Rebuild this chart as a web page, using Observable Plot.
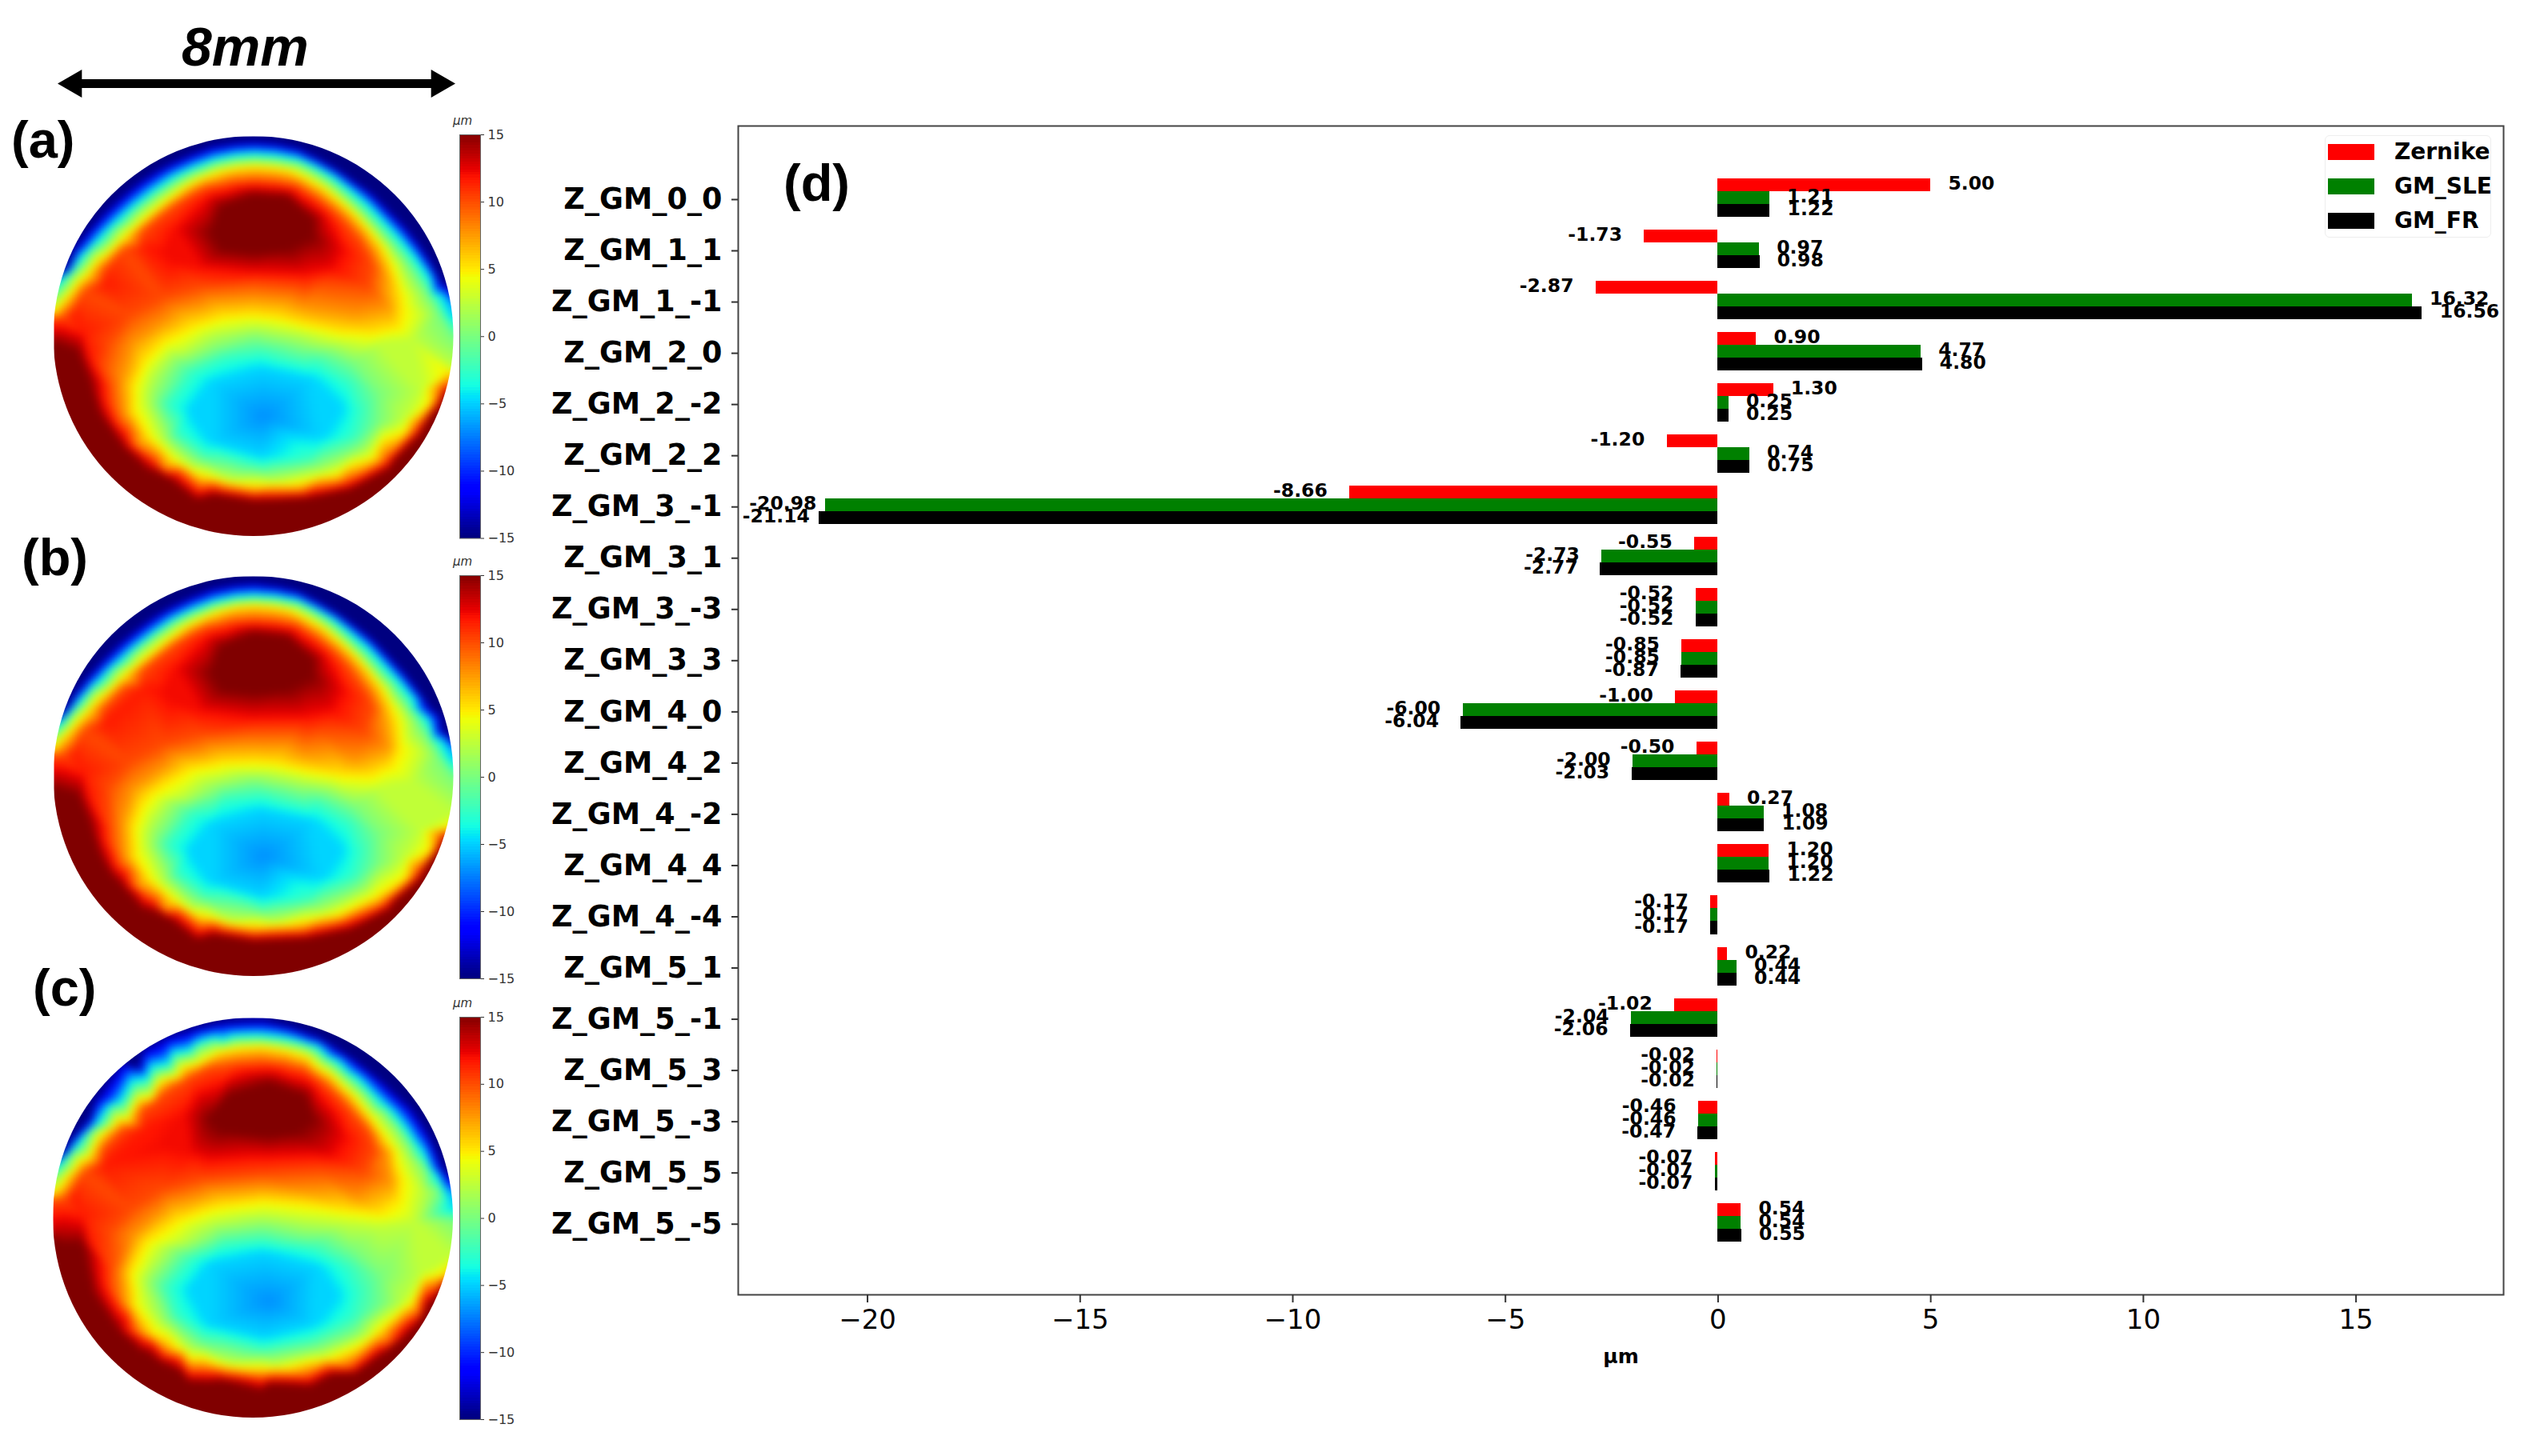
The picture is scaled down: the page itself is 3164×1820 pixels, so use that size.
<!DOCTYPE html>
<html><head><meta charset="utf-8">
<script src="https://cdn.jsdelivr.net/npm/d3@7"></script>
<script src="https://cdn.jsdelivr.net/npm/@observablehq/plot@0.6"></script>
<style>
html,body{margin:0;background:#fff}
#page{position:relative;width:3164px;height:1820px;overflow:hidden;background:#fff}
#page>*{position:absolute}
.tag{font:bold 65px "Liberation Sans";color:#000;line-height:1}
</style></head><body><div id="page"></div>
<script>
const categories=["Z_GM_0_0","Z_GM_1_1","Z_GM_1_-1","Z_GM_2_0","Z_GM_2_-2","Z_GM_2_2","Z_GM_3_-1","Z_GM_3_1","Z_GM_3_-3","Z_GM_3_3","Z_GM_4_0","Z_GM_4_2","Z_GM_4_-2","Z_GM_4_4","Z_GM_4_-4","Z_GM_5_1","Z_GM_5_-1","Z_GM_5_3","Z_GM_5_-3","Z_GM_5_5","Z_GM_5_-5"];
const zernike=[5.00,-1.73,-2.87,0.90,1.30,-1.20,-8.66,-0.55,-0.52,-0.85,-1.00,-0.50,0.27,1.20,-0.17,0.22,-1.02,-0.02,-0.46,-0.07,0.54];
const gmSle=[1.21,0.97,16.32,4.77,0.25,0.74,-20.98,-2.73,-0.52,-0.85,-6.00,-2.00,1.08,1.20,-0.17,0.44,-2.04,-0.02,-0.46,-0.07,0.54];
const gmFr=[1.22,0.98,16.56,4.80,0.25,0.75,-21.14,-2.77,-0.52,-0.87,-6.04,-2.03,1.09,1.22,-0.17,0.44,-2.06,-0.02,-0.47,-0.07,0.55];
const seriesNames=["Zernike","GM_SLE","GM_FR"];
const seriesColors=["#ff0000","#008000","#000000"];
const xTicks=[-20,-15,-10,-5,0,5,10,15];
const barTicks=[-15,-10,-5,0,5,10,15];
// Surface heights (µm) read along iso-lines of each panel: [level, [x,y, x,y, ...]] in aperture units (149..1269 across, 381..1501 down)
const outerTop=[709,350,520,385,350,490,230,620,150,740,900,385,1070,490,1190,620,1280,760,100,330,1320,330];
const outerBottom=[1270,1150,1180,1280,1050,1420,900,1500,709,1530,520,1500,350,1420,220,1290,130,1130,100,1550,1320,1550];
const surfaceA=[
[-30,outerTop],
[-15,[205,690,245,640,290,590,335,548,380,510,425,480,470,455,530,428,590,405,650,396,709,392,770,397,830,410,885,438,940,470,990,505,1040,540,1085,585,1130,630,1168,678,1200,725,1235,790]],
[-5,[168,775,218,718,270,665,320,615,370,570,425,527,480,490,540,462,600,440,655,429,709,425,770,429,830,440,880,462,930,490,980,528,1030,570,1075,617,1120,665,1162,716,1200,770,1232,822,1258,875]],
[0,[150,830,205,763,260,700,320,643,380,590,435,547,490,510,545,481,600,460,655,449,709,445,770,449,830,458,875,481,920,510,965,548,1010,590,1055,638,1100,690,1137,738,1170,790,1200,835,1225,880,1268,950]],
[2.5,[1130,780,1185,880,1150,950,1060,960,960,960,850,935,709,912,600,930,500,985,420,1050,405,1130,450,1230,530,1300,640,1340,770,1345,900,1320,1030,1260,1130,1170,1175,1090,1262,1030]],
[5,[150,872,195,820,240,770,290,718,340,670,385,628,430,590,480,550,530,515,575,494,620,478,665,469,709,465,755,468,800,475,850,497,900,525,945,561,990,600,1030,645,1065,690,1088,735,1105,780,1116,820,1122,860,1110,915,1040,930,950,925,850,905,770,885,700,878,620,885,540,910,460,950,400,1010,370,1080,370,1150,410,1220,480,1290,580,1335,709,1358,830,1355,940,1330,1050,1280,1130,1210,1200,1130,1255,1040]],
[7.5,[1075,770,1085,860,990,880,850,860,709,835,560,855,450,905,370,960,340,1060,345,1150,385,1240,455,1305,560,1350,709,1372,840,1368,950,1342,1065,1285,1150,1200,1220,1105]],
[10,[175,885,232,815,290,750,345,694,400,640,445,603,490,570,530,546,570,525,640,511,709,505,770,509,830,520,880,551,930,590,970,630,1005,670,1025,705,1040,740,1030,800,900,790,709,790,560,800,450,830,360,880,300,960,305,1080,330,1180,410,1275,500,1320,600,1360,709,1382,850,1375,960,1350,1080,1285,1170,1190,1240,1080]],
[11.5,[200,880,290,790,400,690,230,930,250,1000,290,1120,345,1210,420,1290]],
[12,[460,700,490,640,570,560,709,520,830,545,920,620,960,700,930,750,850,765,709,760,560,745,480,730]],
[15,[590,650,620,575,709,545,800,550,870,610,870,660,800,695,709,705,620,695,150,960,215,985,245,1060,270,1150,340,1250,470,1340,600,1385,709,1402,860,1395,980,1370,1090,1310,1170,1220,1205,1160]],
[17.5,[740,625]],
[-2.5,[465,1130,530,1040,620,1000,730,985,880,1010,980,1070,1010,1150,990,1220,870,1280,730,1305,570,1270,490,1210]],
[0,[500,1010,600,975,709,945,850,975,990,1015,1060,1100,1060,1180,980,1260,880,1300,709,1320,560,1290,470,1200,440,1110]],
[-5,[530,1150,590,1070,730,1030,870,1060,950,1140,900,1220,730,1275,590,1235]],
[-7,[735,1165]],
[-8,[1300,880]],[1,[1300,960]],[4,[1300,1030]],[12,[1300,1100]],
[30,outerBottom],[25,[115,980]],[10,[115,900]],[-2,[120,820]]];
const surfaceB=[
[-30,outerTop],
[-15,[205,705,245,655,290,606,335,562,380,525,425,492,470,465,530,436,590,412,650,401,709,396,770,404,830,418,885,447,940,480,990,516,1040,555,1085,602,1130,650,1168,698,1200,745,1235,810]],
[-5,[168,785,218,726,270,672,320,623,370,578,425,535,480,497,540,468,600,446,655,434,709,430,770,434,830,445,880,469,930,497,980,536,1030,578,1075,626,1120,675,1162,727,1200,782,1232,835,1258,885]],
[0,[150,825,205,761,260,700,320,643,380,590,435,547,490,510,545,483,600,462,655,450,709,446,770,450,830,460,875,484,920,514,965,553,1010,596,1055,647,1100,700,1137,748,1170,800,1200,845,1225,890,1268,950]],
[2.5,[1130,770,1180,870,1150,955,1060,975,960,975,850,950,709,930,600,945,500,1000,420,1060,405,1135,450,1235,530,1305,640,1342,770,1347,900,1322,1030,1262,1130,1165,1175,1090,1262,1045]],
[5,[150,859,195,810,240,762,290,712,340,665,385,626,430,590,480,550,530,515,575,493,620,476,665,465,709,461,755,465,800,473,850,497,900,525,945,563,990,603,1030,648,1065,695,1090,742,1108,790,1115,860,1090,911,1030,938,950,935,850,920,770,902,709,898,620,902,530,919,460,960,420,988,370,1082,375,1168,410,1225,480,1288,580,1335,709,1357,830,1350,950,1327,1050,1280,1130,1228,1200,1150,1250,1085]],
[7.5,[1070,770,1085,860,990,895,850,880,709,855,560,875,450,920,370,975,340,1070,345,1155,385,1245,455,1308,560,1350,709,1372,840,1365,950,1340,1065,1290,1150,1215,1220,1120]],
[10,[175,880,232,812,290,748,345,692,400,638,445,602,490,568,530,545,570,525,640,509,709,503,770,507,830,518,880,550,930,590,970,632,1000,675,1025,710,1040,745,1020,815,900,810,709,810,560,822,450,850,360,900,300,970,305,1085,330,1185,410,1278,500,1322,600,1360,709,1382,850,1375,960,1348,1080,1290,1170,1205,1240,1100]],
[11.5,[200,880,290,790,400,690,230,930,250,1000,290,1120,345,1210,420,1290]],
[12,[460,700,490,640,570,558,709,518,830,543,920,620,960,700,930,755,850,772,709,774,560,755,480,732]],
[15,[590,650,620,575,709,540,800,550,870,610,870,660,800,695,709,705,620,695,150,975,215,995,245,1065,270,1150,340,1250,470,1340,600,1385,709,1402,860,1395,980,1370,1090,1312,1170,1232,1205,1175]],
[17.5,[740,625]],
[-2.5,[465,1130,530,1045,620,1005,730,992,880,1015,980,1072,1010,1150,990,1220,870,1280,730,1305,570,1270,490,1210]],
[0,[500,1020,600,985,709,955,850,985,990,1025,1060,1100,1060,1180,980,1260,880,1300,709,1320,560,1290,470,1200,440,1110]],
[-5,[530,1150,590,1075,730,1035,870,1065,950,1145,900,1222,730,1275,590,1235]],
[-7,[735,1165]],
[-8,[1300,890]],[1,[1300,965]],[4,[1300,1040]],[12,[1300,1120]],
[30,outerBottom],[25,[115,995]],[10,[115,890]],[-2,[120,815]]];
const surfaceC=[
[-30,outerTop],
[-15,[200,714,265,605,337,501,398,463,461,430,540,407,621,390,680,386,737,385,812,402,887,430,950,468,1012,510,1085,570,1154,634,1188,685,1216,740,1242,803]],
[-5,[164,785,215,730,266,678,335,610,408,545,470,503,532,465,620,437,710,423,800,432,887,456,945,497,1003,545,1075,618,1145,696,1187,755,1225,820,1247,865,1265,909]],
[0,[150,828,205,760,260,695,320,635,380,580,435,536,490,497,545,470,600,450,660,444,720,442,785,449,850,462,905,498,960,540,1015,588,1070,640,1112,690,1150,745,1190,805,1225,865,1268,950]],
[2.5,[1130,760,1180,860,1160,950,1060,965,960,955,850,945,736,931,600,950,500,1010,420,1070,400,1140,445,1235,525,1305,640,1345,770,1350,900,1325,1030,1265,1130,1175,1180,1095,1262,1045]],
[5,[151,869,250,770,355,669,425,605,497,545,560,506,621,474,680,464,736,461,800,472,861,492,925,540,985,598,1032,655,1074,714,1102,770,1122,829,1114,891,1065,927,976,918,852,900,736,891,621,905,497,945,408,1007,364,1095,373,1184,426,1264,532,1335,736,1362,887,1344,1065,1255,1153,1184,1233,1104]],
[7.5,[1085,760,1095,840,1000,885,850,865,736,855,560,880,450,925,375,990,340,1090,350,1180,395,1260,470,1310,570,1352,736,1376,880,1360,1060,1280,1165,1195,1235,1115]],
[10,[180,885,235,812,290,745,345,690,400,635,445,602,490,570,530,546,570,525,650,511,736,505,795,512,850,525,900,560,945,600,985,645,1025,690,1040,720,1050,750,1020,810,900,805,736,815,560,830,450,860,365,915,305,980,310,1085,340,1190,410,1280,500,1330,600,1370,736,1390,860,1385,980,1360,1090,1290,1175,1205,1235,1110]],
[11.5,[200,880,290,790,400,690,230,935,250,1005,290,1125,350,1215,420,1290]],
[12,[457,740,515,652,621,567,754,527,887,590,967,714,932,767,754,767,532,758]],
[15,[585,661,639,598,754,563,852,598,874,661,825,700,754,709,621,696,168,1015,230,1015,257,1149,328,1255,444,1344,621,1397,754,1406,931,1379,1065,1326,1153,1255,1198,1184]],
[17.5,[740,635]],
[-2.5,[465,1135,530,1055,620,1015,736,1003,880,1025,980,1080,1010,1150,990,1220,870,1280,736,1305,570,1270,490,1210]],
[0,[500,1030,600,995,736,967,850,990,990,1030,1070,1100,1075,1180,985,1265,880,1305,736,1325,560,1295,465,1210,430,1120]],
[-5,[532,1140,585,1069,736,1038,887,1078,940,1158,878,1237,736,1273,585,1237]],
[-7,[754,1175]],
[-8,[1300,890]],[1,[1300,965]],[4,[1300,1040]],[12,[1300,1120]],
[30,outerBottom],[25,[115,1000]],[10,[115,905]],[-2,[120,820]]];
const arrowEnds=[-3.66,3.66];

const font='"DejaVu Sans"';
const page=document.getElementById("page");
const jetStops=[0,.11,.125,.34,.35,.375,.64,.65,.66,.89,.91,1];
const jetColors=jetStops.map(t=>{
  const r=t<.35?0:t<.66?(t-.35)/.31:t<.89?1:1-.5*(t-.89)/.11;
  const g=t<.125?0:t<.375?(t-.125)/.25:t<.64?1:t<.91?1-(t-.64)/.27:0;
  const b=t<.11?.5+.5*t/.11:t<.34?1:t<.65?1-(t-.34)/.31:0;
  return d3.rgb(r*255,g*255,b*255).formatHex();
});
const jet={type:"linear",domain:jetStops.map(t=>-15+30*t),range:jetColors,clamp:true};

function place(node,left,top){node.style.left=left+"px";node.style.top=top+"px";node.style.display="block";page.appendChild(node);return node}
function tag(text,left,baseline,css){const d=document.createElement("div");d.className="tag";d.textContent=text;if(css)d.style.cssText=css;place(d,left,baseline);d.style.transform="translateY(-0.8em)";return d}

// (a)(b)(c) surfaces
function surface(lines,cx,cy){
  const pts=lines.flatMap(([v,c])=>d3.range(0,c.length,2).map(i=>({x:c[i],y:c[i+1],v})));
  const p=Plot.plot({width:500,height:500,margin:0,x:{domain:[149,1269],axis:null},y:{domain:[1501,381],axis:null},color:jet,
    marks:[Plot.raster(pts,{x:"x",y:"y",fill:"v",interpolate:"barycentric",pixelSize:2,blur:2,imageRendering:"pixelated"})]});
  p.style.clipPath="circle(250px at 250px 250px)";
  place(p,cx-250,cy-250);
}
surface(surfaceA,316.5,420);surface(surfaceB,316.5,970);surface(surfaceC,316,1522);

// colour bars
const levels=d3.range(-15,15,0.2);
function colorbar(top,bottom){
  const p=Plot.plot({width:90,height:bottom-top+30,marginLeft:4,marginRight:60,marginTop:15,marginBottom:15,
    style:{fontFamily:font,fontSize:"16px",color:"#333",background:"transparent"},
    x:{domain:[0,1],axis:null},y:{domain:[-15,15]},color:jet,
    marks:[Plot.rect(levels,{x1:0,x2:1,y1:d=>d,y2:d=>d+0.22,fill:d=>d,shapeRendering:"crispEdges"}),
      Plot.frame({stroke:"#666",strokeWidth:1}),
      Plot.axisY(barTicks,{anchor:"right",tickSize:4,tickPadding:5,label:null,stroke:"#333"})]});
  place(p,570,top-15);
  const m=document.createElement("div");m.textContent="μm";m.style.cssText=`font:italic 15px ${font};color:#333`;
  place(m,566,top-26);
}
colorbar(167.5,672);colorbar(719,1223);colorbar(1271,1774);

// scale arrow
place(Plot.plot({width:640,height:60,marginLeft:70.5,marginRight:70.5,marginTop:0,marginBottom:0,
  x:{domain:[-4,4],axis:null},y:{domain:[-1,1],axis:null},
  marks:[Plot.ruleY([0],{x1:arrowEnds[0],x2:arrowEnds[1],stroke:"black",strokeWidth:11}),
    Plot.dot([arrowEnds[0]],{x:d=>d,y:0,symbol:"triangle",rotate:-90,r:13,fill:"black"}),
    Plot.dot([arrowEnds[1]],{x:d=>d,y:0,symbol:"triangle",rotate:90,r:13,fill:"black"})]}),0,74);

// (d) bars
const rows=seriesNames.flatMap((s,k)=>[zernike,gmSle,gmFr][k].map((v,i)=>({series:s,k,i,value:v})));
const bar=Plot.plot({width:2544,height:1600,marginLeft:302,marginRight:36,marginTop:37,marginBottom:102,
  style:{fontFamily:font,background:"transparent",color:"#000"},
  x:{domain:[-23.04,18.47]},
  y:{domain:[-1.405,21.41],reverse:true},
  color:{domain:seriesNames,range:seriesColors},
  marks:[
    Plot.rectX(rows,{x1:0,x2:"value",y1:d=>d.i-.375+d.k*.25,y2:d=>d.i-.125+d.k*.25,fill:"series",shapeRendering:"crispEdges"}),
    Plot.text(rows,{x:d=>d.value+(d.value>0?.41:-1.8),y:d=>d.i-.25+d.k*.25,text:d=>d.value.toFixed(2),textAnchor:"start",fontSize:23.5,fontWeight:"bold",dy:-2,fill:"black"}),
    Plot.frame({stroke:"#444",strokeWidth:2}),
    Plot.axisX(xTicks,{anchor:"bottom",tickSize:10,tickPadding:8,fontSize:34,label:null,strokeWidth:2,stroke:"#333",tickFormat:d=>String(d).replace("-","−")}),
    Plot.axisX([],{anchor:"bottom",label:"μm",labelAnchor:"center",labelArrow:"none",labelOffset:85,fontSize:25,fontWeight:"bold"}),
    Plot.axisY(d3.range(categories.length),{anchor:"left",tickSize:8,tickPadding:12,fontSize:36.5,fontWeight:"bold",label:null,strokeWidth:2,stroke:"#333",dy:2,tickFormat:i=>categories[i]})
  ]});
place(bar,620,120);

// legend
const legend=document.createElement("div");
legend.style.cssText="width:208px;height:128px;border:1px solid #eee;border-radius:6px;box-sizing:border-box;background:#fff";
place(legend,2905,168.5);
seriesNames.forEach((s,k)=>{
  const sw=document.createElement("div");sw.style.cssText=`position:absolute;left:3px;top:${10+k*43}px;width:58px;height:20px;background:${seriesColors[k]}`;
  const tx=document.createElement("div");tx.textContent=s;tx.style.cssText=`position:absolute;left:86px;top:${3+k*43}px;font:bold 28px ${font};color:#000;line-height:34px`;
  legend.append(sw,tx);
});

tag("(a)",14,194);tag("(b)",27,716);tag("(c)",41,1254);tag("(d)",979,248);
tag("8mm",227,78,'font:italic bold 68px "Liberation Sans";line-height:1');
</script></body></html>
